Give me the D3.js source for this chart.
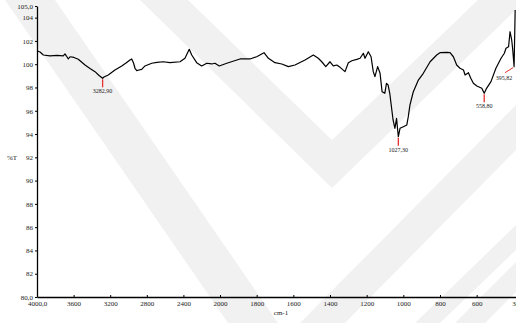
<!DOCTYPE html>
<html>
<head>
<meta charset="utf-8">
<script src="https://cdn.jsdelivr.net/npm/d3@7"></script>
<style>
  html, body { margin: 0; padding: 0; background: #fff; }
  svg { display: block; }
  text { font-family: "Liberation Serif", "DejaVu Serif", serif; fill: #222; }
</style>
</head>
<body>
<svg id="chart" width="516" height="323"></svg>
<script>
// ---- data ----
const wavenumbers = [4000,3967,3931,3858,3781,3713,3694,3678,3658,3639,3596,3549,3475,3421,3366,3322,3282.9,3268,3221,3148,3074,3027,2984,2965,2945,2929,2910,2885,2856,2820,2746,2689,2620,2547,2437,2383,2336,2309,2255,2200,2145,2091,2055,2008,1963,1891,1836,1800,1760,1736,1700,1663,1627,1591,1536,1491,1464,1445,1423,1400,1382,1363,1345,1318,1300,1281,1254,1236,1218,1209,1191,1176,1164,1155,1140,1127,1116,1101,1092,1083,1074,1056,1046,1037,1027.3,1018,1000,981,973,964,946,918,891,854,818,800,763,745,727,709,691,672,663,645,632,618,599,572,558.8,546,522,495,467,449,440,426,418,409,404,395.82,390];
const transmittance = [101.16,101.05,100.79,100.72,100.75,100.72,100.88,100.70,100.45,100.64,100.58,100.42,99.93,99.63,99.36,99.03,98.79,98.90,99.07,99.50,99.85,100.10,100.36,100.45,100.10,99.65,99.45,99.50,99.56,99.85,100.08,100.15,100.21,100.13,100.21,100.51,101.28,100.79,100.13,99.85,100.08,100.02,100.08,99.85,100.08,100.45,100.45,100.64,100.99,100.51,100.13,100.02,99.79,99.93,100.36,100.79,100.51,100.21,99.79,100.21,99.85,99.93,99.73,99.36,100.13,100.30,100.42,100.51,100.94,100.51,101.07,100.64,99.36,98.93,99.79,99.22,97.64,97.50,98.36,98.21,97.50,95.21,94.49,95.35,93.77,94.49,94.63,94.78,95.49,96.49,97.61,98.64,99.22,100.21,100.79,100.99,101.02,100.99,100.64,99.93,99.65,99.50,99.07,99.27,98.79,98.36,98.13,97.93,97.50,97.93,98.50,99.65,100.51,100.94,101.37,101.50,102.79,102.08,101.37,99.79,104.66];
const peakWavenumbers = [3282.9, 1027.3, 558.8, 395.82];
const peakLabels = ["3282,90", "1027,30", "558,80", "395,82"];
const xTickValues = [4000,3600,3200,2800,2400,2000,1800,1600,1400,1200,1000,800,600,380];
const xTickLabels = ["4000,0","3600","3200","2800","2400","2000","1800","1600","1400","1200","1000","800","600","380"];
const yTickValues = [80,82,84,86,88,90,92,94,96,98,100,102,104,105];
const yTickLabels = ["80,0","82","84","86","88","90","92","94","96","98","100","102","104","105,0"];
const xAxisTitle = "cm-1";
const yAxisTitle = "%T";

// ---- layout ----
const svg = d3.select("#chart");
const mLeft = 37, mRight = 517, mTop = 6, mBottom = 297;

// watermark (decorative)
const wm = svg.append("g").attr("fill", "#f1f1f1");
const bands = [
  [[5,0],[55,0],[278,323],[228,323]],
  [[140,0],[188,0],[332,140],[478,0],[526,0],[332,188]],
  [[300,323],[345,323],[516,150],[516,105]],
  [[415,323],[440,323],[516,250],[516,225]],
  [[455,323],[485,323],[516,292],[516,262]]
];
bands.forEach(b => wm.append("path").attr("d", d3.line()(b) + "Z"));

// non-linear IR x scale (scale change at 2000)
const x = d3.scaleLinear().domain([4000, 2000, 380]).range([mLeft, 220, mRight]);
const y = d3.scaleLinear().domain([80, 105]).range([mBottom, mTop]);

// axes
const xAxis = d3.axisBottom(x).tickValues(xTickValues)
  .tickFormat((d, i) => xTickLabels[i]).tickSizeInner(-2).tickSizeOuter(0).tickPadding(4);
const gx = svg.append("g").attr("transform", `translate(0,${mBottom})`).call(xAxis);
gx.select(".domain").attr("stroke", "#000").attr("stroke-width", 1.3);
gx.selectAll(".tick line").attr("stroke", "#000");
gx.selectAll("text").attr("font-size", 7).attr("fill", "#222");

const yAxis = d3.axisLeft(y).tickValues(yTickValues)
  .tickFormat((d, i) => yTickLabels[i]).tickSizeInner(2).tickSizeOuter(0).tickPadding(2);
const gy = svg.append("g").attr("transform", `translate(${mLeft},0)`).call(yAxis);
gy.select(".domain").attr("stroke", "#000").attr("stroke-width", 1.3);
gy.selectAll(".tick line").attr("stroke", "#000");
gy.selectAll("text").attr("font-size", 7).attr("fill", "#222");

svg.append("text").attr("x", 12).attr("y", y(92)).attr("dy", "0.32em")
  .attr("text-anchor", "middle").attr("font-size", 7).text(yAxisTitle);
svg.append("text").attr("x", 281).attr("y", 315)
  .attr("text-anchor", "middle").attr("font-size", 7).text(xAxisTitle);

// spectrum
const pts = wavenumbers.map((w, i) => [w, transmittance[i]]);
svg.append("path").datum(pts)
  .attr("fill", "none").attr("stroke", "#000").attr("stroke-width", 1.2)
  .attr("stroke-linejoin", "round")
  .attr("d", d3.line().x(d => x(d[0])).y(d => y(d[1])));

// peak markers
peakWavenumbers.forEach((w, i) => {
  const idx = wavenumbers.indexOf(w);
  const px = x(w), py = y(transmittance[idx]);
  const g = svg.append("g");
  if (i === 3) {
    g.append("line").attr("x1", px - 1).attr("y1", py + 1).attr("x2", px - 9).attr("y2", py + 6)
      .attr("stroke", "#e8302c").attr("stroke-width", 1);
    g.append("text").attr("x", px - 10).attr("y", py + 13).attr("text-anchor", "middle")
      .attr("font-size", 6).text(peakLabels[i]);
  } else {
    g.append("line").attr("x1", px).attr("y1", py + 1).attr("x2", px).attr("y2", py + 9)
      .attr("stroke", "#e8302c").attr("stroke-width", 1.3);
    g.append("text").attr("x", px).attr("y", py + 15).attr("text-anchor", "middle")
      .attr("font-size", 6).text(peakLabels[i]);
  }
});
</script>
</body>
</html>
